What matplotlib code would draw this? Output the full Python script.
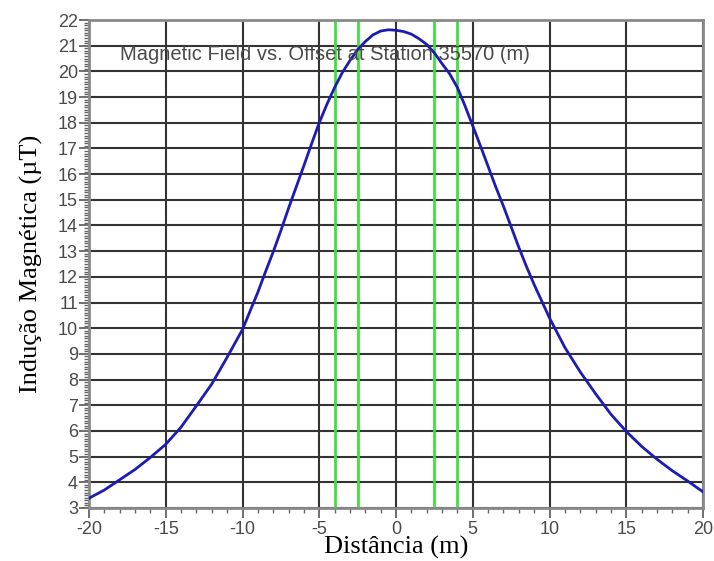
import numpy as np
import matplotlib
matplotlib.use("Agg")
import matplotlib.pyplot as plt
from matplotlib.ticker import MultipleLocator

plt.rcParams["axes.unicode_minus"] = False

# values
offset = [-20, -19, -18, -17, -16, -15, -14, -13, -12, -11, -10, -9, -8.5, -8,
          -7.5, -7, -6.5, -6, -5.5, -5, -4.5, -4, -3.5, -3, -2.5, -2, -1.5,
          -1, -0.5, 0, 0.5, 1, 1.5, 2, 2.5, 3, 3.5, 4, 4.5, 5, 5.5, 6, 6.5,
          7, 7.5, 8, 8.5, 9, 10, 11, 12, 13, 14, 15, 16, 17, 18, 19, 20]
field = [3.38, 3.7, 4.1, 4.5, 4.97, 5.48, 6.15, 6.98, 7.83, 8.87, 9.95,
         11.4, 12.2, 12.97, 13.8, 14.67, 15.5, 16.33, 17.18, 18.0, 18.72,
         19.37, 19.95, 20.42, 20.85, 21.16, 21.42, 21.57, 21.62, 21.6, 21.55,
         21.45, 21.27, 21.05, 20.72, 20.3, 19.9, 19.37, 18.65, 17.88, 17.1,
         16.3, 15.5, 14.75, 13.95, 13.15, 12.4, 11.7, 10.4, 9.25, 8.3, 7.45,
         6.65, 5.98, 5.4, 4.9, 4.45, 4.05, 3.63]
markers = [-4, -2.5, 2.5, 4]

title = "Magnetic Field vs. Offset at Station 35570 (m)"
xlabel = "Distância (m)"
ylabel = "Indução Magnética (µT)"

fig = plt.figure(figsize=(7.14, 5.61), dpi=100)
ax = fig.add_axes([89 / 714, 1 - 508 / 561, 614 / 714, 488 / 561])

ax.set_xlim(-20, 20)
ax.set_ylim(3, 22)
ax.xaxis.set_major_locator(MultipleLocator(5))
ax.xaxis.set_minor_locator(MultipleLocator(1))
ax.yaxis.set_major_locator(MultipleLocator(1))
ax.yaxis.set_minor_locator(MultipleLocator(0.1))

ax.grid(True, which="major", color="#333333", lw=1.5)
ax.set_axisbelow(True)

for x in markers:
    ax.axvline(x, color="#3ee03e", lw=2, zorder=2)

ax.plot(offset, field, color="#1c1cb4", lw=2, zorder=3)

for s in ax.spines.values():
    s.set_color("#8a8a8a")
    s.set_linewidth(2)

ax.tick_params(which="major", direction="out", length=7, width=1.2,
               color="#555555", labelsize=13, labelcolor="#4a4a4a", pad=1)
ax.tick_params(which="minor", direction="out", length=3.5, width=1,
               color="#666666")
ax.tick_params(axis="x", which="major", pad=2)
for lbl in ax.get_xticklabels() + ax.get_yticklabels():
    lbl.set_fontfamily("Liberation Sans")

ax.text(-18.0, 20.65, title, fontsize=14.5, color="#4a4a4a",
        family="Liberation Sans", va="center", ha="left")

ax.set_xlabel(xlabel, family="Liberation Serif", fontsize=19)
ax.set_ylabel(ylabel, family="Liberation Serif", fontsize=19)
ax.xaxis.set_label_coords(0.5, -0.058)
ax.yaxis.set_label_coords(-0.075, 0.5)

fig.savefig("out.png", dpi=100)
